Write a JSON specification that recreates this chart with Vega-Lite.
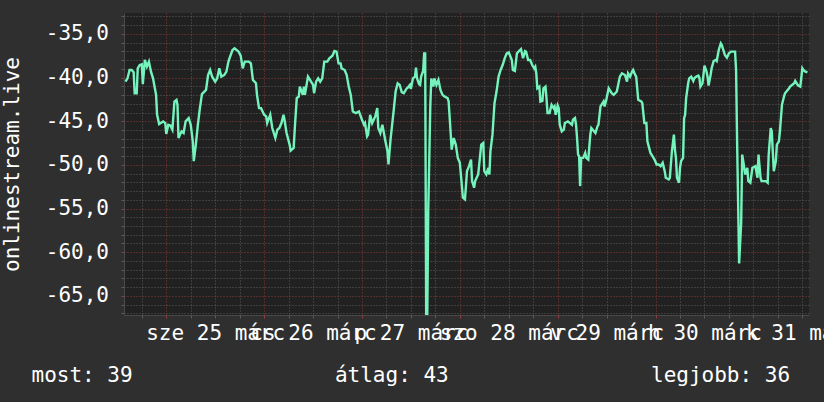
{
  "$schema": "https://vega.github.io/schema/vega-lite/v6.json",
  "width": 685,
  "height": 302,
  "autosize": {"type": "none"},
  "padding": {"left": 124, "top": 13, "right": 15, "bottom": 87},
  "background": "#2f2f2f",
  "config": {
    "view": {"fill": "#212121", "stroke": null},
    "font": "DejaVu Sans Mono"
  },
  "data": {
    "values": [
      {"t": "2020-03-24T14:00:00Z", "v": -40.46}, {"t": "2020-03-24T14:30:00Z", "v": -40.08}, {"t": "2020-03-24T15:00:00Z", "v": -39.13}, {"t": "2020-03-24T15:30:00Z", "v": -39.13},
      {"t": "2020-03-24T16:00:00Z", "v": -39.39}, {"t": "2020-03-24T16:15:00Z", "v": -41.79}, {"t": "2020-03-24T16:45:00Z", "v": -41.79}, {"t": "2020-03-24T17:00:00Z", "v": -38.94},
      {"t": "2020-03-24T17:30:00Z", "v": -38.56}, {"t": "2020-03-24T18:00:00Z", "v": -38.48}, {"t": "2020-03-24T18:15:00Z", "v": -40.76}, {"t": "2020-03-24T18:45:00Z", "v": -37.98},
      {"t": "2020-03-24T19:15:00Z", "v": -38.75}, {"t": "2020-03-24T19:45:00Z", "v": -38.17}, {"t": "2020-03-24T20:15:00Z", "v": -39.32}, {"t": "2020-03-24T20:45:00Z", "v": -40.08},
      {"t": "2020-03-24T21:30:00Z", "v": -41.98}, {"t": "2020-03-24T21:45:00Z", "v": -44.26}, {"t": "2020-03-24T22:15:00Z", "v": -45.32}, {"t": "2020-03-24T23:15:00Z", "v": -45.02},
      {"t": "2020-03-24T23:45:00Z", "v": -45.21},
      {"t": "2020-03-25T00:00:00Z", "v": -46.46}, {"t": "2020-03-25T00:30:00Z", "v": -45.4}, {"t": "2020-03-25T01:00:00Z", "v": -45.48}, {"t": "2020-03-25T01:30:00Z", "v": -45.97},
      {"t": "2020-03-25T02:00:00Z", "v": -42.74}, {"t": "2020-03-25T02:30:00Z", "v": -42.55}, {"t": "2020-03-25T02:45:00Z", "v": -43.12}, {"t": "2020-03-25T03:00:00Z", "v": -46.92},
      {"t": "2020-03-25T03:45:00Z", "v": -46.16}, {"t": "2020-03-25T04:15:00Z", "v": -46.35}, {"t": "2020-03-25T04:45:00Z", "v": -45.02}, {"t": "2020-03-25T05:30:00Z", "v": -44.64},
      {"t": "2020-03-25T06:00:00Z", "v": -45.4}, {"t": "2020-03-25T06:30:00Z", "v": -47.3}, {"t": "2020-03-25T06:45:00Z", "v": -49.58}, {"t": "2020-03-25T07:15:00Z", "v": -47.68},
      {"t": "2020-03-25T07:45:00Z", "v": -45.4}, {"t": "2020-03-25T08:15:00Z", "v": -43.5}, {"t": "2020-03-25T08:45:00Z", "v": -41.9}, {"t": "2020-03-25T09:45:00Z", "v": -41.41},
      {"t": "2020-03-25T10:15:00Z", "v": -39.7}, {"t": "2020-03-25T10:45:00Z", "v": -39.13}, {"t": "2020-03-25T11:15:00Z", "v": -39.89}, {"t": "2020-03-25T12:00:00Z", "v": -40.46},
      {"t": "2020-03-25T12:30:00Z", "v": -40.08}, {"t": "2020-03-25T13:00:00Z", "v": -38.94}, {"t": "2020-03-25T13:30:00Z", "v": -39.89}, {"t": "2020-03-25T14:15:00Z", "v": -39.7},
      {"t": "2020-03-25T14:45:00Z", "v": -39.32}, {"t": "2020-03-25T15:15:00Z", "v": -38.17}, {"t": "2020-03-25T15:30:00Z", "v": -37.79}, {"t": "2020-03-25T16:15:00Z", "v": -36.84},
      {"t": "2020-03-25T16:45:00Z", "v": -36.65}, {"t": "2020-03-25T17:45:00Z", "v": -37.03}, {"t": "2020-03-25T18:15:00Z", "v": -37.49}, {"t": "2020-03-25T18:45:00Z", "v": -38.94},
      {"t": "2020-03-25T19:15:00Z", "v": -38.17}, {"t": "2020-03-25T20:15:00Z", "v": -38.17}, {"t": "2020-03-25T20:45:00Z", "v": -38.37}, {"t": "2020-03-25T21:15:00Z", "v": -40.27},
      {"t": "2020-03-25T22:00:00Z", "v": -40.65}, {"t": "2020-03-25T22:15:00Z", "v": -41.98}, {"t": "2020-03-25T22:45:00Z", "v": -43.5}, {"t": "2020-03-25T23:15:00Z", "v": -43.5},
      {"t": "2020-03-26T00:00:00Z", "v": -44.26}, {"t": "2020-03-26T00:30:00Z", "v": -44.45}, {"t": "2020-03-26T00:45:00Z", "v": -45.21}, {"t": "2020-03-26T01:30:00Z", "v": -44.26},
      {"t": "2020-03-26T02:00:00Z", "v": -45.78}, {"t": "2020-03-26T02:45:00Z", "v": -46.92}, {"t": "2020-03-26T03:15:00Z", "v": -45.97}, {"t": "2020-03-26T03:45:00Z", "v": -45.78},
      {"t": "2020-03-26T04:15:00Z", "v": -45.21}, {"t": "2020-03-26T04:45:00Z", "v": -44.26}, {"t": "2020-03-26T05:00:00Z", "v": -44.83}, {"t": "2020-03-26T05:30:00Z", "v": -46.35},
      {"t": "2020-03-26T06:15:00Z", "v": -47.68}, {"t": "2020-03-26T06:30:00Z", "v": -48.37}, {"t": "2020-03-26T07:15:00Z", "v": -48.06}, {"t": "2020-03-26T07:30:00Z", "v": -45.97},
      {"t": "2020-03-26T08:00:00Z", "v": -42.36}, {"t": "2020-03-26T08:30:00Z", "v": -42.17}, {"t": "2020-03-26T08:45:00Z", "v": -41.03}, {"t": "2020-03-26T09:30:00Z", "v": -41.98},
      {"t": "2020-03-26T09:45:00Z", "v": -41.03}, {"t": "2020-03-26T10:00:00Z", "v": -41.98}, {"t": "2020-03-26T10:45:00Z", "v": -39.89}, {"t": "2020-03-26T11:15:00Z", "v": -40.27},
      {"t": "2020-03-26T12:00:00Z", "v": -40.84}, {"t": "2020-03-26T12:15:00Z", "v": -41.79}, {"t": "2020-03-26T12:45:00Z", "v": -40.46}, {"t": "2020-03-26T13:15:00Z", "v": -40.08},
      {"t": "2020-03-26T13:45:00Z", "v": -40.46}, {"t": "2020-03-26T14:15:00Z", "v": -40.08}, {"t": "2020-03-26T14:45:00Z", "v": -38.17}, {"t": "2020-03-26T15:30:00Z", "v": -38.17},
      {"t": "2020-03-26T16:00:00Z", "v": -37.79}, {"t": "2020-03-26T16:45:00Z", "v": -37.49}, {"t": "2020-03-26T17:15:00Z", "v": -36.96}, {"t": "2020-03-26T17:45:00Z", "v": -37.03},
      {"t": "2020-03-26T18:15:00Z", "v": -38.37}, {"t": "2020-03-26T18:45:00Z", "v": -38.37}, {"t": "2020-03-26T19:00:00Z", "v": -38.94}, {"t": "2020-03-26T19:45:00Z", "v": -39.13},
      {"t": "2020-03-26T20:15:00Z", "v": -39.7}, {"t": "2020-03-26T20:45:00Z", "v": -41.03}, {"t": "2020-03-26T21:15:00Z", "v": -41.98}, {"t": "2020-03-26T21:45:00Z", "v": -43.88},
      {"t": "2020-03-26T22:30:00Z", "v": -44.07}, {"t": "2020-03-26T23:15:00Z", "v": -43.88},
      {"t": "2020-03-27T00:00:00Z", "v": -44.83}, {"t": "2020-03-27T00:30:00Z", "v": -45.4}, {"t": "2020-03-27T00:45:00Z", "v": -45.21}, {"t": "2020-03-27T01:15:00Z", "v": -46.73},
      {"t": "2020-03-27T01:30:00Z", "v": -46.54}, {"t": "2020-03-27T02:00:00Z", "v": -44.26}, {"t": "2020-03-27T02:30:00Z", "v": -45.21}, {"t": "2020-03-27T03:15:00Z", "v": -44.45},
      {"t": "2020-03-27T03:45:00Z", "v": -43.5}, {"t": "2020-03-27T04:00:00Z", "v": -45.78}, {"t": "2020-03-27T04:30:00Z", "v": -46.35}, {"t": "2020-03-27T05:00:00Z", "v": -45.4},
      {"t": "2020-03-27T05:45:00Z", "v": -47.3}, {"t": "2020-03-27T06:15:00Z", "v": -48.44}, {"t": "2020-03-27T06:30:00Z", "v": -49.96}, {"t": "2020-03-27T07:00:00Z", "v": -47.11},
      {"t": "2020-03-27T07:45:00Z", "v": -43.88}, {"t": "2020-03-27T08:15:00Z", "v": -41.6}, {"t": "2020-03-27T08:45:00Z", "v": -40.65}, {"t": "2020-03-27T09:15:00Z", "v": -40.84},
      {"t": "2020-03-27T09:45:00Z", "v": -41.67}, {"t": "2020-03-27T10:15:00Z", "v": -41.79}, {"t": "2020-03-27T11:00:00Z", "v": -41.22}, {"t": "2020-03-27T11:15:00Z", "v": -41.14},
      {"t": "2020-03-27T11:45:00Z", "v": -40.84}, {"t": "2020-03-27T12:00:00Z", "v": -41.29}, {"t": "2020-03-27T12:30:00Z", "v": -40.08}, {"t": "2020-03-27T13:00:00Z", "v": -39.89},
      {"t": "2020-03-27T13:15:00Z", "v": -38.86}, {"t": "2020-03-27T13:30:00Z", "v": -40.08}, {"t": "2020-03-27T14:00:00Z", "v": -40.76}, {"t": "2020-03-27T14:15:00Z", "v": -40.84},
      {"t": "2020-03-27T14:30:00Z", "v": -39.89}, {"t": "2020-03-27T15:00:00Z", "v": -39.24}, {"t": "2020-03-27T15:15:00Z", "v": -37.22}, {"t": "2020-03-27T15:30:00Z", "v": -37.22},
      {"t": "2020-03-27T15:45:00Z", "v": -68}, {"t": "2020-03-27T16:00:00Z", "v": -68}, {"t": "2020-03-27T16:15:00Z", "v": -55.3}, {"t": "2020-03-27T16:45:00Z", "v": -43.4},
      {"t": "2020-03-27T17:00:00Z", "v": -40.1}, {"t": "2020-03-27T17:30:00Z", "v": -41.03}, {"t": "2020-03-27T17:45:00Z", "v": -40.08}, {"t": "2020-03-27T18:15:00Z", "v": -40.84},
      {"t": "2020-03-27T18:45:00Z", "v": -40.27}, {"t": "2020-03-27T19:15:00Z", "v": -41.41}, {"t": "2020-03-27T19:45:00Z", "v": -41.98}, {"t": "2020-03-27T20:15:00Z", "v": -42.17},
      {"t": "2020-03-27T21:00:00Z", "v": -42.36}, {"t": "2020-03-27T21:15:00Z", "v": -42.74}, {"t": "2020-03-27T21:45:00Z", "v": -46.35}, {"t": "2020-03-27T22:00:00Z", "v": -48.25},
      {"t": "2020-03-27T22:30:00Z", "v": -46.92}, {"t": "2020-03-27T23:00:00Z", "v": -47.68}, {"t": "2020-03-27T23:30:00Z", "v": -49.2},
      {"t": "2020-03-28T00:00:00Z", "v": -49.77}, {"t": "2020-03-28T00:15:00Z", "v": -51.1}, {"t": "2020-03-28T00:45:00Z", "v": -53.76}, {"t": "2020-03-28T01:15:00Z", "v": -53.95},
      {"t": "2020-03-28T01:30:00Z", "v": -52.43}, {"t": "2020-03-28T01:45:00Z", "v": -50.72}, {"t": "2020-03-28T02:15:00Z", "v": -50.15}, {"t": "2020-03-28T02:45:00Z", "v": -49.39},
      {"t": "2020-03-28T03:00:00Z", "v": -51.86}, {"t": "2020-03-28T03:30:00Z", "v": -52.62}, {"t": "2020-03-28T03:45:00Z", "v": -51.86}, {"t": "2020-03-28T04:30:00Z", "v": -51.1},
      {"t": "2020-03-28T04:45:00Z", "v": -49.96}, {"t": "2020-03-28T05:15:00Z", "v": -47.68}, {"t": "2020-03-28T05:45:00Z", "v": -47.49}, {"t": "2020-03-28T06:00:00Z", "v": -50.72},
      {"t": "2020-03-28T06:30:00Z", "v": -51.1}, {"t": "2020-03-28T07:00:00Z", "v": -50.34}, {"t": "2020-03-28T07:15:00Z", "v": -51.1}, {"t": "2020-03-28T07:30:00Z", "v": -48.44},
      {"t": "2020-03-28T08:00:00Z", "v": -46.54}, {"t": "2020-03-28T08:30:00Z", "v": -42.93}, {"t": "2020-03-28T09:00:00Z", "v": -41.6}, {"t": "2020-03-28T09:30:00Z", "v": -39.89},
      {"t": "2020-03-28T10:00:00Z", "v": -39.13}, {"t": "2020-03-28T10:30:00Z", "v": -38.56}, {"t": "2020-03-28T11:00:00Z", "v": -37.79}, {"t": "2020-03-28T11:30:00Z", "v": -37.22},
      {"t": "2020-03-28T12:00:00Z", "v": -37.11}, {"t": "2020-03-28T12:45:00Z", "v": -37.98}, {"t": "2020-03-28T13:00:00Z", "v": -39.13}, {"t": "2020-03-28T13:30:00Z", "v": -39.24},
      {"t": "2020-03-28T14:00:00Z", "v": -37.22}, {"t": "2020-03-28T14:30:00Z", "v": -36.96}, {"t": "2020-03-28T15:00:00Z", "v": -36.73}, {"t": "2020-03-28T15:30:00Z", "v": -37.79},
      {"t": "2020-03-28T16:00:00Z", "v": -36.96}, {"t": "2020-03-28T16:15:00Z", "v": -37.03}, {"t": "2020-03-28T16:45:00Z", "v": -37.98}, {"t": "2020-03-28T17:15:00Z", "v": -37.98},
      {"t": "2020-03-28T17:45:00Z", "v": -38.56}, {"t": "2020-03-28T18:15:00Z", "v": -38.94}, {"t": "2020-03-28T18:30:00Z", "v": -38.75}, {"t": "2020-03-28T18:45:00Z", "v": -39.51},
      {"t": "2020-03-28T19:00:00Z", "v": -41.22}, {"t": "2020-03-28T19:30:00Z", "v": -41.03}, {"t": "2020-03-28T19:45:00Z", "v": -42.74}, {"t": "2020-03-28T20:15:00Z", "v": -42.66},
      {"t": "2020-03-28T20:30:00Z", "v": -41.22}, {"t": "2020-03-28T21:00:00Z", "v": -41.03}, {"t": "2020-03-28T21:15:00Z", "v": -42.36}, {"t": "2020-03-28T21:30:00Z", "v": -44.07},
      {"t": "2020-03-28T22:00:00Z", "v": -44.07}, {"t": "2020-03-28T22:30:00Z", "v": -43.12}, {"t": "2020-03-28T23:00:00Z", "v": -43.5}, {"t": "2020-03-28T23:15:00Z", "v": -43.31},
      {"t": "2020-03-28T23:30:00Z", "v": -44.26},
      {"t": "2020-03-29T00:00:00Z", "v": -43.19}, {"t": "2020-03-29T00:15:00Z", "v": -43.5}, {"t": "2020-03-29T00:30:00Z", "v": -45.4}, {"t": "2020-03-29T01:00:00Z", "v": -46.16},
      {"t": "2020-03-29T01:30:00Z", "v": -45.97}, {"t": "2020-03-29T01:45:00Z", "v": -45.21}, {"t": "2020-03-29T02:30:00Z", "v": -45.02}, {"t": "2020-03-29T03:30:00Z", "v": -45.4},
      {"t": "2020-03-29T03:45:00Z", "v": -44.83}, {"t": "2020-03-29T04:15:00Z", "v": -44.64}, {"t": "2020-03-29T04:30:00Z", "v": -45.4}, {"t": "2020-03-29T04:45:00Z", "v": -46.92},
      {"t": "2020-03-29T05:00:00Z", "v": -48.82}, {"t": "2020-03-29T05:15:00Z", "v": -49.01}, {"t": "2020-03-29T05:30:00Z", "v": -52.43}, {"t": "2020-03-29T05:45:00Z", "v": -49.2},
      {"t": "2020-03-29T06:15:00Z", "v": -49.2}, {"t": "2020-03-29T06:45:00Z", "v": -48.63}, {"t": "2020-03-29T07:00:00Z", "v": -49.2}, {"t": "2020-03-29T07:30:00Z", "v": -49.39},
      {"t": "2020-03-29T08:00:00Z", "v": -46.54}, {"t": "2020-03-29T08:15:00Z", "v": -45.78}, {"t": "2020-03-29T09:15:00Z", "v": -46.35}, {"t": "2020-03-29T09:45:00Z", "v": -45.59},
      {"t": "2020-03-29T10:00:00Z", "v": -45.4}, {"t": "2020-03-29T10:30:00Z", "v": -43.31}, {"t": "2020-03-29T11:15:00Z", "v": -42.74}, {"t": "2020-03-29T11:30:00Z", "v": -43.31},
      {"t": "2020-03-29T12:00:00Z", "v": -42.36}, {"t": "2020-03-29T12:30:00Z", "v": -41.22}, {"t": "2020-03-29T12:45:00Z", "v": -41.41}, {"t": "2020-03-29T13:15:00Z", "v": -41.79},
      {"t": "2020-03-29T13:45:00Z", "v": -41.98}, {"t": "2020-03-29T14:30:00Z", "v": -41.6}, {"t": "2020-03-29T15:00:00Z", "v": -40.46}, {"t": "2020-03-29T15:15:00Z", "v": -39.89},
      {"t": "2020-03-29T15:45:00Z", "v": -39.51}, {"t": "2020-03-29T16:30:00Z", "v": -39.7}, {"t": "2020-03-29T17:00:00Z", "v": -40.46}, {"t": "2020-03-29T17:15:00Z", "v": -39.51},
      {"t": "2020-03-29T17:45:00Z", "v": -39.89}, {"t": "2020-03-29T18:15:00Z", "v": -39.32}, {"t": "2020-03-29T18:30:00Z", "v": -39.13}, {"t": "2020-03-29T19:00:00Z", "v": -39.7},
      {"t": "2020-03-29T19:15:00Z", "v": -39.89}, {"t": "2020-03-29T19:45:00Z", "v": -42.55}, {"t": "2020-03-29T20:30:00Z", "v": -42.74}, {"t": "2020-03-29T20:45:00Z", "v": -42.93},
      {"t": "2020-03-29T21:15:00Z", "v": -45.21}, {"t": "2020-03-29T21:45:00Z", "v": -45.21}, {"t": "2020-03-29T22:00:00Z", "v": -47.3}, {"t": "2020-03-29T22:45:00Z", "v": -48.63},
      {"t": "2020-03-29T23:15:00Z", "v": -49.01}, {"t": "2020-03-29T23:45:00Z", "v": -49.39},
      {"t": "2020-03-30T00:15:00Z", "v": -49.96}, {"t": "2020-03-30T00:45:00Z", "v": -49.96}, {"t": "2020-03-30T01:15:00Z", "v": -50.15}, {"t": "2020-03-30T01:45:00Z", "v": -49.77},
      {"t": "2020-03-30T02:15:00Z", "v": -50.72}, {"t": "2020-03-30T02:30:00Z", "v": -51.48}, {"t": "2020-03-30T03:15:00Z", "v": -51.67}, {"t": "2020-03-30T03:30:00Z", "v": -51.48},
      {"t": "2020-03-30T04:00:00Z", "v": -48.5}, {"t": "2020-03-30T04:30:00Z", "v": -46.54}, {"t": "2020-03-30T04:45:00Z", "v": -48.25}, {"t": "2020-03-30T05:00:00Z", "v": -49.2},
      {"t": "2020-03-30T05:15:00Z", "v": -51.48}, {"t": "2020-03-30T05:45:00Z", "v": -52.05}, {"t": "2020-03-30T06:00:00Z", "v": -50.34}, {"t": "2020-03-30T06:15:00Z", "v": -49.58},
      {"t": "2020-03-30T06:45:00Z", "v": -49.2}, {"t": "2020-03-30T07:00:00Z", "v": -44.64}, {"t": "2020-03-30T07:15:00Z", "v": -44.26}, {"t": "2020-03-30T07:30:00Z", "v": -42.36},
      {"t": "2020-03-30T08:00:00Z", "v": -40.65}, {"t": "2020-03-30T08:15:00Z", "v": -40.08}, {"t": "2020-03-30T08:45:00Z", "v": -39.89}, {"t": "2020-03-30T09:15:00Z", "v": -40.38},
      {"t": "2020-03-30T09:30:00Z", "v": -40.08}, {"t": "2020-03-30T10:00:00Z", "v": -39.89}, {"t": "2020-03-30T10:30:00Z", "v": -39.77}, {"t": "2020-03-30T10:45:00Z", "v": -40.0},
      {"t": "2020-03-30T11:00:00Z", "v": -41.03}, {"t": "2020-03-30T11:30:00Z", "v": -40.65}, {"t": "2020-03-30T11:45:00Z", "v": -39.7}, {"t": "2020-03-30T12:00:00Z", "v": -38.63},
      {"t": "2020-03-30T12:30:00Z", "v": -39.32}, {"t": "2020-03-30T12:45:00Z", "v": -39.89}, {"t": "2020-03-30T13:00:00Z", "v": -40.91}, {"t": "2020-03-30T13:30:00Z", "v": -39.7},
      {"t": "2020-03-30T13:45:00Z", "v": -38.94}, {"t": "2020-03-30T14:15:00Z", "v": -38.1}, {"t": "2020-03-30T14:45:00Z", "v": -37.98}, {"t": "2020-03-30T15:00:00Z", "v": -38.1},
      {"t": "2020-03-30T15:30:00Z", "v": -36.84}, {"t": "2020-03-30T16:00:00Z", "v": -36.08}, {"t": "2020-03-30T16:15:00Z", "v": -36.27}, {"t": "2020-03-30T16:45:00Z", "v": -37.03},
      {"t": "2020-03-30T17:00:00Z", "v": -37.41}, {"t": "2020-03-30T17:30:00Z", "v": -37.72}, {"t": "2020-03-30T18:00:00Z", "v": -37.22}, {"t": "2020-03-30T18:30:00Z", "v": -37.03},
      {"t": "2020-03-30T19:30:00Z", "v": -37.03}, {"t": "2020-03-30T19:45:00Z", "v": -39.13}, {"t": "2020-03-30T20:00:00Z", "v": -47.3}, {"t": "2020-03-30T20:30:00Z", "v": -61.3},
      {"t": "2020-03-30T21:00:00Z", "v": -56.6}, {"t": "2020-03-30T21:15:00Z", "v": -48.82}, {"t": "2020-03-30T21:30:00Z", "v": -49.58}, {"t": "2020-03-30T22:00:00Z", "v": -51.1},
      {"t": "2020-03-30T22:30:00Z", "v": -50.34}, {"t": "2020-03-30T22:45:00Z", "v": -51.86}, {"t": "2020-03-30T23:15:00Z", "v": -52.05}, {"t": "2020-03-30T23:45:00Z", "v": -50.34},
      {"t": "2020-03-31T00:30:00Z", "v": -50.15}, {"t": "2020-03-31T01:00:00Z", "v": -51.48}, {"t": "2020-03-31T01:15:00Z", "v": -48.82}, {"t": "2020-03-31T01:45:00Z", "v": -51.48},
      {"t": "2020-03-31T02:00:00Z", "v": -51.86}, {"t": "2020-03-31T03:00:00Z", "v": -51.86}, {"t": "2020-03-31T03:30:00Z", "v": -52.05}, {"t": "2020-03-31T03:45:00Z", "v": -48.82},
      {"t": "2020-03-31T04:15:00Z", "v": -45.78}, {"t": "2020-03-31T04:30:00Z", "v": -46.16}, {"t": "2020-03-31T05:00:00Z", "v": -50.72}, {"t": "2020-03-31T05:30:00Z", "v": -49.58},
      {"t": "2020-03-31T05:45:00Z", "v": -47.68}, {"t": "2020-03-31T06:15:00Z", "v": -47.3}, {"t": "2020-03-31T06:30:00Z", "v": -46.16}, {"t": "2020-03-31T07:00:00Z", "v": -43.12},
      {"t": "2020-03-31T07:30:00Z", "v": -42.17}, {"t": "2020-03-31T07:45:00Z", "v": -41.79}, {"t": "2020-03-31T08:45:00Z", "v": -41.22}, {"t": "2020-03-31T09:00:00Z", "v": -41.03},
      {"t": "2020-03-31T10:00:00Z", "v": -40.65}, {"t": "2020-03-31T10:15:00Z", "v": -40.38}, {"t": "2020-03-31T10:45:00Z", "v": -40.76}, {"t": "2020-03-31T11:00:00Z", "v": -40.91},
      {"t": "2020-03-31T11:30:00Z", "v": -41.03}, {"t": "2020-03-31T12:00:00Z", "v": -38.94}, {"t": "2020-03-31T12:15:00Z", "v": -39.13}, {"t": "2020-03-31T12:45:00Z", "v": -39.32},
      {"t": "2020-03-31T13:15:00Z", "v": -39.39}
    ]
  },
  "mark": {"type": "line", "color": "#74f4bc", "strokeWidth": 2.4, "clip": true},
  "encoding": {
    "x": {
      "field": "t",
      "type": "temporal",
      "scale": {
        "type": "utc",
        "domain": [
          {"year": 2020, "month": 3, "date": 24, "hours": 13, "minutes": 38, "utc": true},
          {"year": 2020, "month": 3, "date": 31, "hours": 13, "minutes": 38, "utc": true}
        ]
      },
      "axis": {
        "values": [
          {"year": 2020, "month": 3, "date": 24, "hours": 18, "utc": true},
          {"year": 2020, "month": 3, "date": 25, "hours": 0, "utc": true},
          {"year": 2020, "month": 3, "date": 25, "hours": 6, "utc": true},
          {"year": 2020, "month": 3, "date": 25, "hours": 12, "utc": true},
          {"year": 2020, "month": 3, "date": 25, "hours": 18, "utc": true},
          {"year": 2020, "month": 3, "date": 26, "hours": 0, "utc": true},
          {"year": 2020, "month": 3, "date": 26, "hours": 6, "utc": true},
          {"year": 2020, "month": 3, "date": 26, "hours": 12, "utc": true},
          {"year": 2020, "month": 3, "date": 26, "hours": 18, "utc": true},
          {"year": 2020, "month": 3, "date": 27, "hours": 0, "utc": true},
          {"year": 2020, "month": 3, "date": 27, "hours": 6, "utc": true},
          {"year": 2020, "month": 3, "date": 27, "hours": 12, "utc": true},
          {"year": 2020, "month": 3, "date": 27, "hours": 18, "utc": true},
          {"year": 2020, "month": 3, "date": 28, "hours": 0, "utc": true},
          {"year": 2020, "month": 3, "date": 28, "hours": 6, "utc": true},
          {"year": 2020, "month": 3, "date": 28, "hours": 12, "utc": true},
          {"year": 2020, "month": 3, "date": 28, "hours": 18, "utc": true},
          {"year": 2020, "month": 3, "date": 29, "hours": 0, "utc": true},
          {"year": 2020, "month": 3, "date": 29, "hours": 6, "utc": true},
          {"year": 2020, "month": 3, "date": 29, "hours": 12, "utc": true},
          {"year": 2020, "month": 3, "date": 29, "hours": 18, "utc": true},
          {"year": 2020, "month": 3, "date": 30, "hours": 0, "utc": true},
          {"year": 2020, "month": 3, "date": 30, "hours": 6, "utc": true},
          {"year": 2020, "month": 3, "date": 30, "hours": 12, "utc": true},
          {"year": 2020, "month": 3, "date": 30, "hours": 18, "utc": true},
          {"year": 2020, "month": 3, "date": 31, "hours": 0, "utc": true},
          {"year": 2020, "month": 3, "date": 31, "hours": 6, "utc": true},
          {"year": 2020, "month": 3, "date": 31, "hours": 12, "utc": true}
        ],
        "grid": true,
        "gridColor": {"condition": {"test": "utchours(datum.value) == 0", "value": "#8a3a3a"}, "value": "#5c5c5c"},
        "gridDash": [1, 2],
        "gridWidth": 1,
        "ticks": true,
        "tickSize": 3,
        "tickColor": {"condition": {"test": "utchours(datum.value) == 0", "value": "#9a3c3c"}, "value": "#5c5c5c"},
        "domainColor": "#4a4a4a",
        "labelExpr": "utchours(datum.value) != 12 ? '' : (utcday(datum.value) == 0 ? 'v' : utcday(datum.value) == 1 ? 'h' : utcday(datum.value) == 2 ? 'k' : utcday(datum.value) == 3 ? 'sze' : utcday(datum.value) == 4 ? 'cs' : utcday(datum.value) == 5 ? 'p' : 'szo') + ' ' + utcdate(datum.value) + ' márc'",
        "labelColor": "#ffffff",
        "labelFont": "DejaVu Sans Mono",
        "labelFontSize": 21,
        "labelBaseline": "alphabetic",
        "labelPadding": 21,
        "labelOverlap": false,
        "labelFlush": false,
        "title": "most: 39\u00a0\u00a0\u00a0\u00a0\u00a0\u00a0\u00a0\u00a0\u00a0\u00a0\u00a0\u00a0\u00a0\u00a0\u00a0\u00a0átlag: 43\u00a0\u00a0\u00a0\u00a0\u00a0\u00a0\u00a0\u00a0\u00a0\u00a0\u00a0\u00a0\u00a0\u00a0\u00a0\u00a0legjobb: 36",
        "titleFont": "DejaVu Sans Mono",
        "titleFontSize": 21,
        "titleFontWeight": "normal",
        "titleColor": "#ffffff",
        "titleAnchor": "start",
        "titleAlign": "left",
        "titleBaseline": "alphabetic",
        "titleX": -93,
        "titleY": 66
      }
    },
    "y": {
      "field": "v",
      "type": "quantitative",
      "scale": {"domain": [-67.2, -32.6], "nice": false, "zero": false},
      "axis": {
        "values": [-67, -66, -65, -64, -63, -62, -61, -60, -59, -58, -57, -56, -55, -54, -53, -52, -51, -50, -49, -48, -47, -46, -45, -44, -43, -42, -41, -40, -39, -38, -37, -36, -35, -34, -33],
        "grid": true,
        "gridColor": {"condition": {"test": "datum.value % 5 == 0", "value": "#8a3a3a"}, "value": "#5c5c5c"},
        "gridDash": [1, 2],
        "gridWidth": 1,
        "ticks": true,
        "tickSize": 3,
        "tickColor": {"condition": {"test": "datum.value % 5 == 0", "value": "#9a3c3c"}, "value": "#5c5c5c"},
        "domainColor": "#4a4a4a",
        "labelExpr": "datum.value % 5 == 0 ? '-' + replace(format(-datum.value, '.1f'), '.', ',') : ''",
        "labelColor": "#ffffff",
        "labelFont": "DejaVu Sans Mono",
        "labelFontSize": 21,
        "labelBaseline": "middle",
        "labelPadding": 12.5,
        "labelOverlap": false,
        "title": "onlinestream.live",
        "titleFont": "DejaVu Sans Mono",
        "titleFontSize": 21,
        "titleFontWeight": "normal",
        "titleColor": "#ffffff",
        "titleBaseline": "alphabetic",
        "titleX": -105.5
      }
    }
  }
}
